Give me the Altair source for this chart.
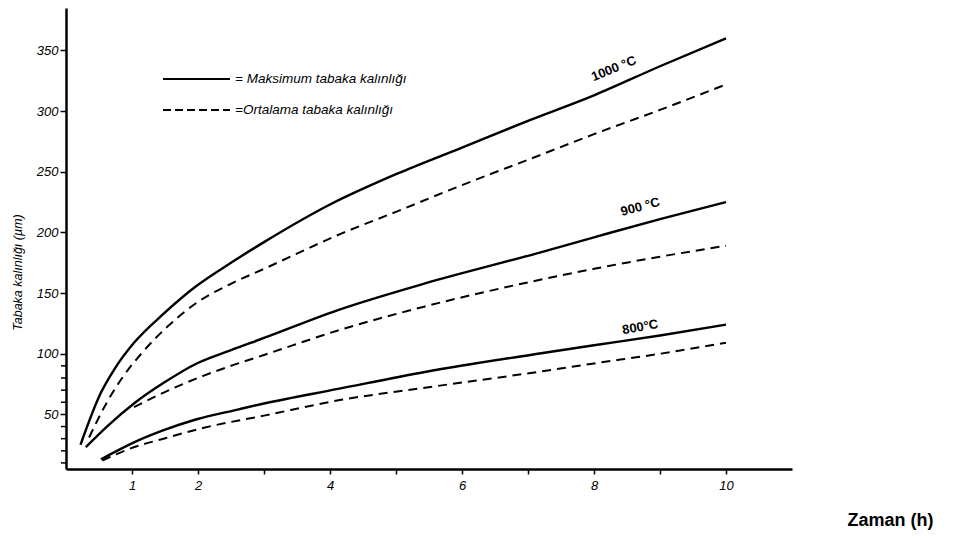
import altair as alt
import pandas as pd

# Layer thickness (µm) versus time (h) at three temperatures
t1000_max = [0.22, 0.53, 0.73, 1.03, 1.48, 1.98, 2.5, 3, 4, 5, 6, 7, 8, 9, 10]
v1000_max = [25, 68, 87, 109, 133, 156, 175, 192, 223, 248, 270, 292, 313, 337, 360]
t1000_avg = [0.35, 0.62, 0.85, 1.14, 1.53, 1.98, 2.55, 3, 4.17, 5, 6, 7.1, 8, 9, 10]
v1000_avg = [31, 60, 80, 100, 122, 142, 159, 170, 199, 217, 239, 262, 281, 301, 322]

t900_max = [0.3, 0.62, 1.03, 1.48, 1.98, 2.5, 3, 4.12, 5.44, 7.15, 8, 9, 10]
v900_max = [23, 40, 59, 76, 92, 103, 113, 136, 158, 183, 196, 211, 225]
t900_avg = [1.03, 1.48, 2.09, 2.55, 3, 4.17, 5.44, 7.1, 8, 9, 10]
v900_avg = [56, 68, 82, 91, 99, 120, 139, 160, 170, 180, 189]

t800_max = [0.53, 1.03, 1.48, 1.98, 2.6, 3, 4.12, 5.44, 7.15, 8, 9, 10]
v800_max = [13, 27, 37, 46, 54, 59, 71, 85, 100, 107, 115, 124]
t800_avg = [0.55, 0.98, 1.48, 2.09, 3, 4.17, 5.44, 7.15, 8, 9, 10]
v800_avg = [12, 22, 30, 39, 49, 62, 72, 85, 92, 100, 109]

temp_labels = ["1000 °C", "900 °C", "800°C"]
label_x = [8.3, 8.7, 8.7]
label_y = [335, 221, 122]
label_angle = [338, 345, 350]

x_ticks = [1, 2, 3, 4, 5, 6, 7, 8, 9, 10]
y_ticks = [50, 100, 150, 200, 250, 300, 350]
y_minor = [10, 20, 30, 40, 60, 70, 80, 90]

legend_texts = ["= Maksimum tabaka kalınlığı", "=Ortalama tabaka kalınlığı"]

FONT = "Liberation Sans"


def frame(series, kind, t, v):
    return pd.DataFrame({"series": series, "kind": kind, "t": t, "v": v})


df = pd.concat([
    frame("1000", "max", t1000_max, v1000_max),
    frame("1000", "avg", t1000_avg, v1000_avg),
    frame("900", "max", t900_max, v900_max),
    frame("900", "avg", t900_avg, v900_avg),
    frame("800", "max", t800_max, v800_max),
    frame("800", "avg", t800_avg, v800_avg),
])
df["key"] = df["series"] + "_" + df["kind"]

x_scale = alt.Scale(domain=[0, 11], nice=False, zero=False)
y_scale = alt.Scale(domain=[5, 385], nice=False, zero=False)

x_enc = alt.X(
    "t:Q", scale=x_scale,
    axis=alt.Axis(
        values=x_ticks, title="Zaman (h)", grid=False, format="d",
        labelOverlap=False,
        labelExpr="indexof([3,5,7,9], datum.value) >= 0 ? '' : datum.label",
        labelFont=FONT, labelFontStyle="italic", labelFontSize=13,
        labelColor="black", labelPadding=5,
        tickColor="black", tickWidth=1.5, tickSize=5,
        domainColor="black", domainWidth=2.5,
        titleFont=FONT, titleFontSize=18, titleFontWeight="bold",
        titleColor="black", titleX=824, titleY=51,
        titleAlign="center", titleBaseline="middle",
    ),
)
y_enc = alt.Y(
    "v:Q", scale=y_scale,
    axis=alt.Axis(
        values=y_ticks, title="Tabaka kalınlığı (µm)", grid=False, format="d",
        labelOverlap=False,
        labelFont=FONT, labelFontStyle="italic", labelFontSize=13,
        labelColor="black", labelPadding=2,
        tickColor="black", tickWidth=1.5, tickSize=6,
        domainColor="black", domainWidth=2.5,
        titleFont=FONT, titleFontStyle="italic", titleFontSize=12.5,
        titleFontWeight="normal", titleColor="black",
        titleX=-49, titleY=264, titleAngle=270,
        titleAlign="center", titleBaseline="middle",
    ),
)

solid = alt.Chart(df).transform_filter(
    "datum.kind == 'max'"
).mark_line(color="black", interpolate="monotone", strokeWidth=2.4).encode(
    x=x_enc, y=y_enc, detail="key:N"
)

dashed = alt.Chart(df).transform_filter(
    "datum.kind == 'avg'"
).mark_line(
    color="black", interpolate="monotone", strokeWidth=2, strokeDash=[9, 6]
).encode(x="t:Q", y="v:Q", detail="key:N")

# Minor ticks on the lower part of the thickness axis
minor = alt.Chart(pd.DataFrame({"v": y_minor})).mark_rule(
    color="black", strokeWidth=1.5
).encode(x=alt.value(-5), x2=alt.value(0), y="v:Q")

labels_df = pd.DataFrame({
    "label": temp_labels, "t": label_x, "v": label_y, "angle": label_angle
})
curve_labels = alt.Chart(labels_df).mark_text(
    font=FONT, fontSize=13, fontWeight="bold", color="black"
).encode(
    x="t:Q", y="v:Q", text="label:N",
    angle=alt.Angle("angle:Q", scale=None),
)

# Key in the upper-left corner
leg_solid = alt.Chart(pd.DataFrame({"a": [0]})).mark_rule(
    color="black", strokeWidth=2
).encode(x=alt.value(97), x2=alt.value(164), y=alt.value(71))
leg_dash = alt.Chart(pd.DataFrame({"a": [0]})).mark_rule(
    color="black", strokeWidth=1.8, strokeDash=[8, 4]
).encode(x=alt.value(97), x2=alt.value(164), y=alt.value(102))
leg_text1 = alt.Chart(pd.DataFrame({"txt": [legend_texts[0]]})).mark_text(
    font=FONT, fontSize=13.5, fontStyle="italic", align="left",
    baseline="middle", color="black"
).encode(x=alt.value(169), y=alt.value(71), text="txt:N")
leg_text2 = alt.Chart(pd.DataFrame({"txt": [legend_texts[1]]})).mark_text(
    font=FONT, fontSize=13.5, fontStyle="italic", align="left",
    baseline="middle", color="black"
).encode(x=alt.value(169), y=alt.value(102), text="txt:N")

chart = alt.layer(
    solid, dashed, minor, curve_labels, leg_solid, leg_dash, leg_text1, leg_text2
).properties(
    width=726, height=461,
    autosize=alt.AutoSizeParams(type="none"),
    padding={"left": 66, "top": 8, "right": 165, "bottom": 69},
    background="white",
).configure_view(stroke=None, clip=False)

chart.save("out.html", embed_options={"renderer": "svg", "actions": False})
